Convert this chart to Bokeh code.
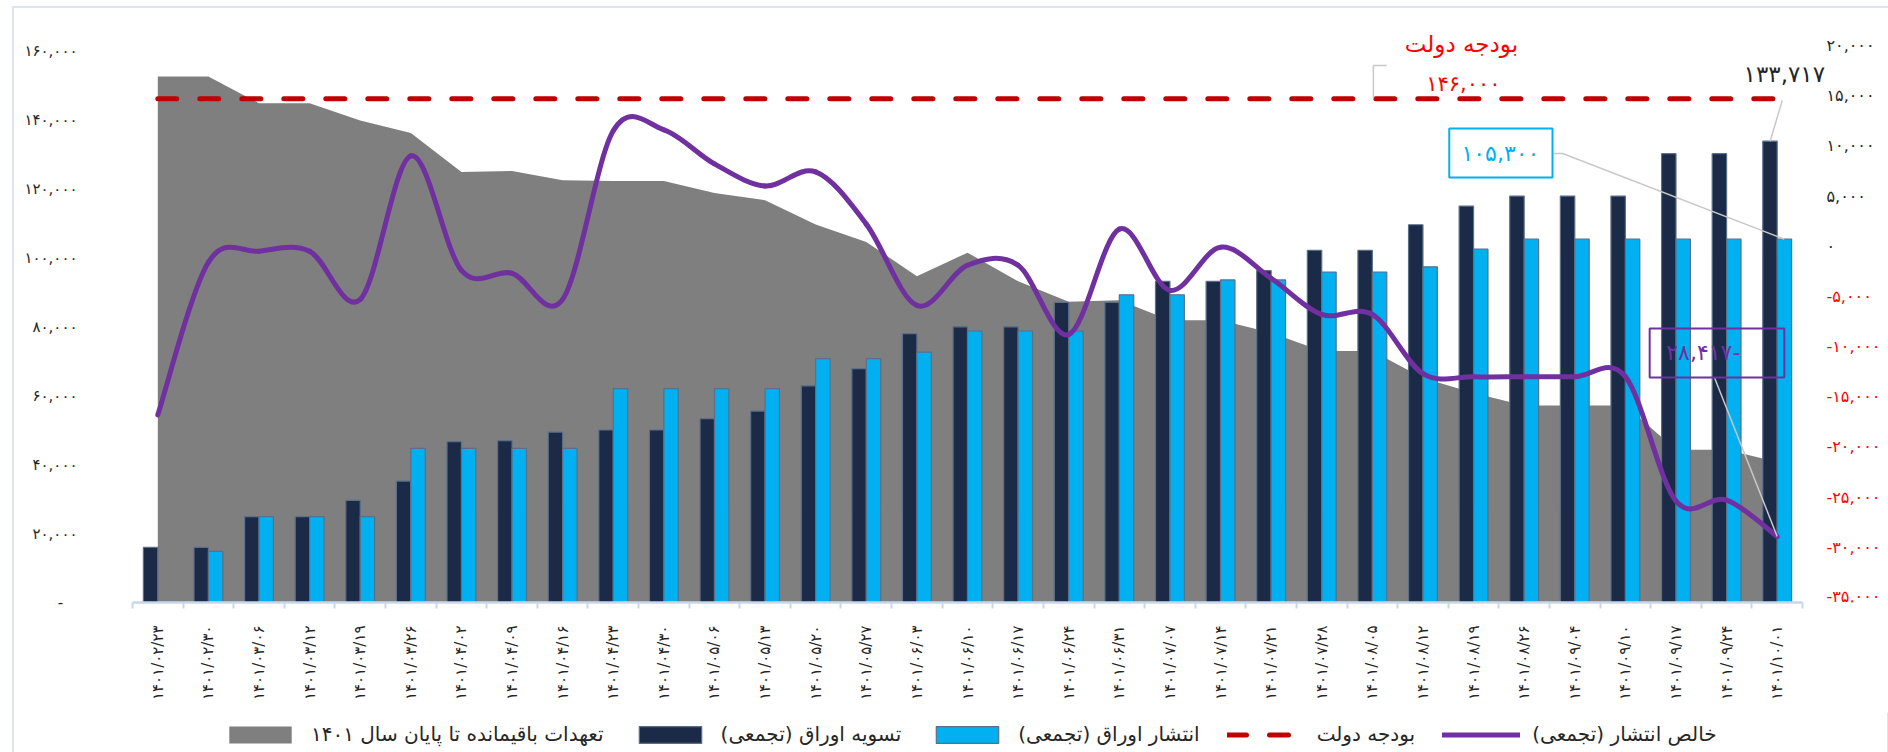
import math
from bokeh.plotting import figure
from bokeh.layouts import column
from bokeh.models import (Range1d, FixedTicker, Label, Legend, LegendItem, ColumnDataSource)
from bokeh.transform import dodge
from bokeh.embed import file_html
from bokeh.resources import INLINE

FA = str.maketrans("0123456789", "۰۱۲۳۴۵۶۷۸۹")

# ---------------- data ----------------
dates_latin = ["1401/02/23", "1401/02/30", "1401/03/06", "1401/03/12", "1401/03/19",
               "1401/03/26", "1401/04/02", "1401/04/09", "1401/04/16", "1401/04/23",
               "1401/04/30", "1401/05/06", "1401/05/13", "1401/05/20", "1401/05/27",
               "1401/06/03", "1401/06/10", "1401/06/17", "1401/06/24", "1401/06/31",
               "1401/07/07", "1401/07/14", "1401/07/21", "1401/07/28", "1401/08/05",
               "1401/08/12", "1401/08/19", "1401/08/26", "1401/09/04", "1401/09/10",
               "1401/09/17", "1401/09/24", "1401/10/01"]
date_labels = [d.translate(FA) for d in dates_latin]

# تسویه اوراق (تجمعی)
settle = [16000, 16000, 24900, 24900, 29600, 35200, 46600, 46900, 49400, 50000,
          50000, 53300, 55500, 62800, 67800, 77900, 79900, 79900, 87000, 87000,
          93100, 93100, 96200, 102100, 102100, 109500, 114900, 117800, 117800, 117800,
          130100, 130100, 133717]
# انتشار اوراق (تجمعی)
issue = [float("nan"), 14800, 24900, 24900, 24900, 44700, 44700, 44700, 44700, 62000,
         62000, 62000, 62000, 70700, 70700, 72600, 78700, 78700, 78700, 89200,
         89200, 93500, 93500, 95800, 95800, 97300, 102400, 105300, 105300, 105300,
         105300, 105300, 105300]
# خالص انتشار (تجمعی)
net = [-16300, -1100, 0, 0, -4800, 9500, -1900, -2200, -4800, 12000,
       12100, 8700, 6500, 7900, 2700, -5400, -1400, -1400, -8300, 2200,
       -3900, 400, -2700, -6300, -6300, -12200, -12500, -12500, -12500, -12500,
       -24900, -24800, -28417]
# تعهدات باقیمانده تا پایان سال ۱۴۰۱
remaining = [152500, 152500, 144700, 144700, 139700, 136100, 124800, 125100, 122400, 122200,
             122200, 118700, 116600, 109600, 104500, 94600, 101400, 93100, 87200, 87600,
             81800, 81800, 78200, 72900, 72900, 65100, 60700, 57100, 57100, 57100,
             44300, 44300, 40700]
budget = 146000

left_ticks = [0, 20000, 40000, 60000, 80000, 100000, 120000, 140000, 160000]
left_tick_labels = ["-\u00a0\u00a0\u00a0", "۲۰,۰۰۰", "۴۰,۰۰۰", "۶۰,۰۰۰", "۸۰,۰۰۰",
                    "۱۰۰,۰۰۰", "۱۲۰,۰۰۰", "۱۴۰,۰۰۰", "۱۶۰,۰۰۰"]
right_ticks = [20000, 15000, 10000, 5000, 0, -5000, -10000, -15000, -20000, -25000,
               -30000, -35000]
right_tick_labels = ["۲۰,۰۰۰", "۱۵,۰۰۰", "۱۰,۰۰۰", "۵,۰۰۰", "۰", "-۵,۰۰۰", "-۱۰,۰۰۰",
                     "-۱۵,۰۰۰", "-۲۰,۰۰۰", "-۲۵,۰۰۰", "-۳۰,۰۰۰", "-۳۵,۰۰۰"]
left_axis_max = 160000
right_axis_min, right_axis_max = -35000, 20000

legend_labels = ["تعهدات باقیمانده تا پایان سال ۱۴۰۱", "تسویه اوراق (تجمعی)",
                 "انتشار اوراق (تجمعی)", "بودجه دولت", "خالص انتشار (تجمعی)"]

# ---------------- style / layout ----------------
FONT = "DejaVu Sans"
C_GRAY = "#7F7F7F"
C_NAVY = "#1B2A47"
C_LIGHT = "#00B0F0"
C_RED = "#C00000"
C_PURPLE = "#7030A0"
C_AXIS = "#C9D7EA"
C_LEAD = "#C8C8C8"
C_TEXT = "#262626"
C_FRAME = "#DCE6F2"

W = 1888
H_MAIN = 712
H_LEG = 40
BORDER_L = 132          # frame starts at page x=132
CAT_AREA_PX = 1670      # width of the category axis
PLOT_PX = 552           # height of 0..160,000
BORDER_T = 10
FRAME_H = 592

n = len(dates_latin)
idx = list(range(n))
cat_px = CAT_AREA_PX / n
frame_w = W - BORDER_L
x_end = -0.5 + frame_w / cat_px
y_end = left_axis_max * FRAME_H / PLOT_PX
r_end = right_axis_min + (right_axis_max - right_axis_min) * FRAME_H / PLOT_PX

p = figure(width=W, height=H_MAIN, x_range=Range1d(-0.5, x_end),
           y_range=Range1d(0, y_end), output_backend="svg", toolbar_location=None,
           min_border_left=BORDER_L, min_border_right=0, min_border_top=BORDER_T,
           min_border_bottom=H_MAIN - BORDER_T - FRAME_H)
p.extra_y_ranges = {"right": Range1d(right_axis_min, r_end)}
p.xgrid.visible = False
p.ygrid.visible = False
p.outline_line_color = None
p.background_fill_color = "white"
p.border_fill_color = None

# x axis
xa = p.xaxis[0]
xa.bounds = (-0.5, n - 0.5)
xa.ticker = FixedTicker(ticks=idx, minor_ticks=[i - 0.5 for i in range(n + 1)])
xa.major_label_overrides = {i: lab for i, lab in zip(idx, date_labels)}
xa.major_label_orientation = math.pi / 2
xa.major_tick_out = 0
xa.major_tick_in = 0
xa.minor_tick_out = 6
xa.minor_tick_in = 0
xa.minor_tick_line_color = C_AXIS
xa.minor_tick_line_width = 2
xa.axis_line_color = C_AXIS
xa.axis_line_width = 2.5
xa.major_label_standoff = 17
xa.major_label_text_font = FONT
xa.major_label_text_font_size = "15px"
xa.major_label_text_color = C_TEXT

# left axis
ya = p.yaxis[0]
ya.ticker = FixedTicker(ticks=left_ticks)
ya.major_label_overrides = {t: lab for t, lab in zip(left_ticks, left_tick_labels)}
ya.axis_line_color = None
ya.major_tick_line_color = None
ya.minor_tick_line_color = None
ya.major_label_standoff = 49
ya.major_label_text_font = FONT
ya.major_label_text_font_size = "15px"
ya.major_label_text_color = C_TEXT

# right axis labels (positive black, negative red)
for t, lab in zip(right_ticks, right_tick_labels):
    p.add_layout(Label(x=n - 0.5, y=t, y_range_name="right", x_offset=24,
                       y_offset=6 if t == right_axis_min else 5, text=lab,
                       text_align="left", text_baseline="middle",
                       text_color="#FF0000" if t < 0 else C_TEXT,
                       text_font=FONT, text_font_size="16px"))

# ---------------- glyphs ----------------
src = ColumnDataSource(dict(idx=idx, settle=settle, issue=issue, remaining=remaining))

p.varea(x="idx", y1=0, y2="remaining", source=src, fill_color=C_GRAY)
p.vbar(x=dodge("idx", -0.1425, range=p.x_range), top="settle", width=0.285,
       source=src, fill_color=C_NAVY, line_color="#5B6F8A", line_width=1.2)
p.vbar(x=dodge("idx", 0.1425, range=p.x_range), top="issue", width=0.285,
       source=src, fill_color=C_LIGHT, line_color="#5B6F8A", line_width=1.2)
p.line(x=[idx[0], idx[-1]], y=[budget, budget], line_color=C_RED,
       line_width=5, line_dash="19 23", line_cap="round")

# smoothed net line (Catmull-Rom -> cubic bezier, like Excel smoothing)
bz = dict(x0=[], y0=[], x1=[], y1=[], cx0=[], cy0=[], cx1=[], cy1=[])
for i in range(n - 1):
    ip = max(i - 1, 0)
    inn = min(i + 2, n - 1)
    bz["x0"].append(idx[i]); bz["y0"].append(net[i])
    bz["x1"].append(idx[i + 1]); bz["y1"].append(net[i + 1])
    bz["cx0"].append(idx[i] + (idx[i + 1] - idx[ip]) / 6)
    bz["cy0"].append(net[i] + (net[i + 1] - net[ip]) / 6)
    bz["cx1"].append(idx[i + 1] - (idx[inn] - idx[i]) / 6)
    bz["cy1"].append(net[i + 1] - (net[inn] - net[i]) / 6)
p.bezier(x0="x0", y0="y0", x1="x1", y1="y1", cx0="cx0", cy0="cy0", cx1="cx1", cy1="cy1",
         source=ColumnDataSource(bz), y_range_name="right", line_color=C_PURPLE,
         line_width=5, line_cap="round")

# ---------------- annotations ----------------
# budget callout
p.line(x=[24.02, 24.02, 24.28], y=[budget, 155650, 155650], line_color=C_LEAD, line_width=1.5)
p.add_layout(Label(x=25.76, y=161900, text="بودجه دولت", text_align="center",
                   text_baseline="middle", text_color="#FF0000", text_font=FONT,
                   text_font_size="23px"))
p.add_layout(Label(x=25.80, y=150300, text=f"{budget:,}".translate(FA), text_align="center",
                   text_baseline="middle", text_color="#FF0000", text_font=FONT,
                   text_font_size="21px"))

# last settle callout
p.line(x=[idx[-1] - 0.14, 32.10], y=[settle[-1], 145500], line_color=C_LEAD, line_width=1.5)
p.add_layout(Label(x=32.14, y=153300, text=f"{settle[-1]:,}".translate(FA), text_align="center",
                   text_baseline="middle", text_color=C_TEXT, text_font=FONT,
                   text_font_size="23px"))

# last issue callout (box)
p.line(x=[27.58, 27.76, idx[-1] + 0.14], y=[130150, 130150, issue[-1]],
       line_color=C_LEAD, line_width=1.5)
p.quad(left=25.52, right=27.56, top=137400, bottom=123200, fill_color=None,
       line_color=C_LIGHT, line_width=2)
p.add_layout(Label(x=26.53, y=130150, text=f"{issue[-1]:,}".translate(FA), text_align="center",
                   text_baseline="middle", text_color=C_LIGHT, text_font=FONT,
                   text_font_size="22px"))

# last net callout (box)
p.line(x=[30.76, idx[-1]], y=[-12580, net[-1]], y_range_name="right",
       line_color=C_LEAD, line_width=1.5)
p.quad(left=29.48, right=32.14, top=-7700, bottom=-12580, y_range_name="right",
       fill_color=None, line_color=C_PURPLE, line_width=2)
p.add_layout(Label(x=30.54, y=-10090, y_range_name="right",
                   text=f"{abs(net[-1]):,}".translate(FA) + "-", text_align="center",
                   text_baseline="middle", text_color=C_PURPLE, text_font=FONT,
                   text_font_size="22px"))

# ---------------- legend (separate strip below) ----------------
q = figure(width=W, height=H_LEG, x_range=Range1d(0, 1), y_range=Range1d(0, 1),
           x_axis_type=None, y_axis_type=None,
           output_backend="svg", toolbar_location=None, min_border=0,
           min_border_left=BORDER_L)
q.xgrid.visible = False
q.ygrid.visible = False
q.outline_line_color = None
q.background_fill_color = None
q.border_fill_color = None
# legend swatches (data placed outside the visible strip)
lg_area = q.varea(x=[5, 6], y1=[0, 0], y2=[1, 1], fill_color=C_GRAY)
lg_settle = q.vbar(x=[5], top=[1], width=0.3, fill_color=C_NAVY, line_color="#5B6F8A",
                   line_width=1.2)
lg_issue = q.vbar(x=[5], top=[1], width=0.3, fill_color=C_LIGHT, line_color="#5B6F8A",
                  line_width=1.2)
lg_budget = q.line(x=[5, 6], y=[0.5, 0.5], line_color=C_RED, line_width=5,
                   line_dash="19 23", line_cap="round")
lg_net = q.line(x=[5, 6], y=[0.5, 0.5], line_color=C_PURPLE, line_width=5, line_cap="round")

legend = Legend(items=[LegendItem(label=legend_labels[0], renderers=[lg_area]),
                       LegendItem(label=legend_labels[1], renderers=[lg_settle]),
                       LegendItem(label=legend_labels[2], renderers=[lg_issue]),
                       LegendItem(label=legend_labels[3], renderers=[lg_budget]),
                       LegendItem(label=legend_labels[4], renderers=[lg_net])],
                orientation="horizontal", location=(89, 6), glyph_width=78,
                glyph_height=21, label_standoff=12, spacing=27,
                label_text_font=FONT, label_text_font_size="20px",
                label_text_color=C_TEXT, border_line_color=None,
                background_fill_alpha=0, padding=0, margin=0)
q.add_layout(legend, "center")

frame_css = {
    "background-color": "white",
    "background-image": f"linear-gradient({C_FRAME}, {C_FRAME}), "
                        f"linear-gradient({C_FRAME}, {C_FRAME})",
    "background-size": "2px 100%, 100% 2px",
    "background-position": "12px 6px, 12px 6px",
    "background-repeat": "no-repeat",
}
layout = column(p, q, spacing=0, styles=frame_css)
open("out.html", "w").write(file_html(layout, INLINE))
